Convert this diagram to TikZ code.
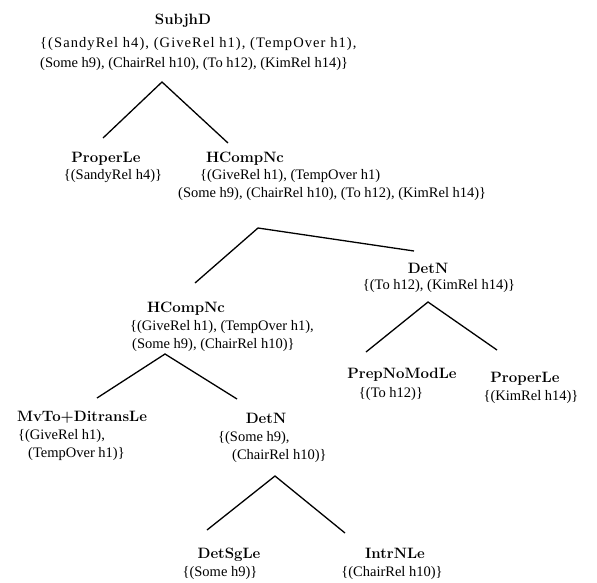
\documentclass[tikz,border=0pt]{standalone}
\usepackage{fontspec}
\newfontfamily\relfont{Liberation Serif}

\begin{document}
\begin{tikzpicture}[x=1pt,y=-1pt,
        cat/.style={font=\fontsize{15}{18}\selectfont\bfseries,inner sep=0pt,anchor=base},
        rels/.style={font=\fontsize{14.5}{18}\selectfont\relfont,inner sep=0pt,anchor=base},
        relblock/.style={rels,align=left,anchor=north west},
        branch/.style={line width=1.3pt}]
   \useasboundingbox (0,0) rectangle (597,582);
   % categories
   \node[cat] (S)    at (183,24)  {SubjhD};
   \node[cat] (PL1)  at (106,162) {ProperLe};
   \node[cat] (HC1)  at (245,162) {HCompNc};
   \node[cat] (DN1)  at (428,273) {DetN};
   \node[cat] (HC2)  at (186,312) {HCompNc};
   \node[cat] (PNM)  at (402,378) {PrepNoModLe};
   \node[cat] (PL2)  at (525,382) {ProperLe};
   \node[cat] (MvTo) at (82,421)  {MvTo+DitransLe};
   \node[cat] (DN2)  at (266,423) {DetN};
   \node[cat] (DSg)  at (229,558) {DetSgLe};
   \node[cat] (INL)  at (395,558) {IntrNLe};
   % relation sets
   \node[relblock] (Srel) at (40,37) {{\addfontfeature{LetterSpace=7.5}\{(SandyRel h4), (GiveRel h1), (TempOver h1),}\\[2pt]
        (Some h9), (ChairRel h10), (To h12), (KimRel h14)\}};
   \node[rels] (PL1rel) at (113,179) {\{(SandyRel h4)\}};
   \node[relblock] (HC1rel) at (178,169) {\hspace*{22pt}\{(GiveRel h1), (TempOver h1)\\
        (Some h9), (ChairRel h10), (To h12), (KimRel h14)\}};
   \node[rels] (DN1rel) at (439,289) {\{(To h12), (KimRel h14)\}};
   \node[relblock] (HC2rel) at (130,320) {\{(GiveRel h1), (TempOver h1),\\
        \hspace*{2pt}(Some h9), (ChairRel h10)\}};
   \node[rels] (PNMrel) at (391,397) {\{(To h12)\}};
   \node[rels] (PL2rel) at (531,400) {\{(KimRel h14)\}};
   \node[relblock] (MvTorel) at (18,429) {\{(GiveRel h1),\\
        \hspace*{10pt}(TempOver h1)\}};
   \node[relblock] (DN2rel) at (218,431) {\{(Some h9),\\
        \hspace*{14pt}(ChairRel h10)\}};
   \node[rels] (DSgrel) at (220,576) {\{(Some h9)\}};
   \node[rels] (INLrel) at (392,576) {\{(ChairRel h10)\}};
   % branches
   \coordinate (S-top)   at (162,82);
   \coordinate (PL1-ft)  at (103,138);
   \coordinate (HC1-ft)  at (228,143);
   \coordinate (HC1-top) at (258,228);
   \coordinate (HC2-ft)  at (195,283);
   \coordinate (DN1-ft)  at (414,251);
   \coordinate (DN1-top) at (428,302);
   \coordinate (PNM-ft)  at (366,352);
   \coordinate (PL2-ft)  at (497,350);
   \coordinate (HC2-top) at (165,354);
   \coordinate (MvTo-ft) at (97,398);
   \coordinate (DN2-ft)  at (237,399);
   \coordinate (DN2-top) at (275,476);
   \coordinate (DSg-ft)  at (207,530);
   \coordinate (INL-ft)  at (345,533);
   \draw[branch] (PL1-ft) -- (S-top) -- (HC1-ft);
   \draw[branch] (HC2-ft) -- (HC1-top) -- (DN1-ft);
   \draw[branch] (PNM-ft) -- (DN1-top) -- (PL2-ft);
   \draw[branch] (MvTo-ft) -- (HC2-top) -- (DN2-ft);
   \draw[branch] (DSg-ft) -- (DN2-top) -- (INL-ft);
\end{tikzpicture}
\end{document}
